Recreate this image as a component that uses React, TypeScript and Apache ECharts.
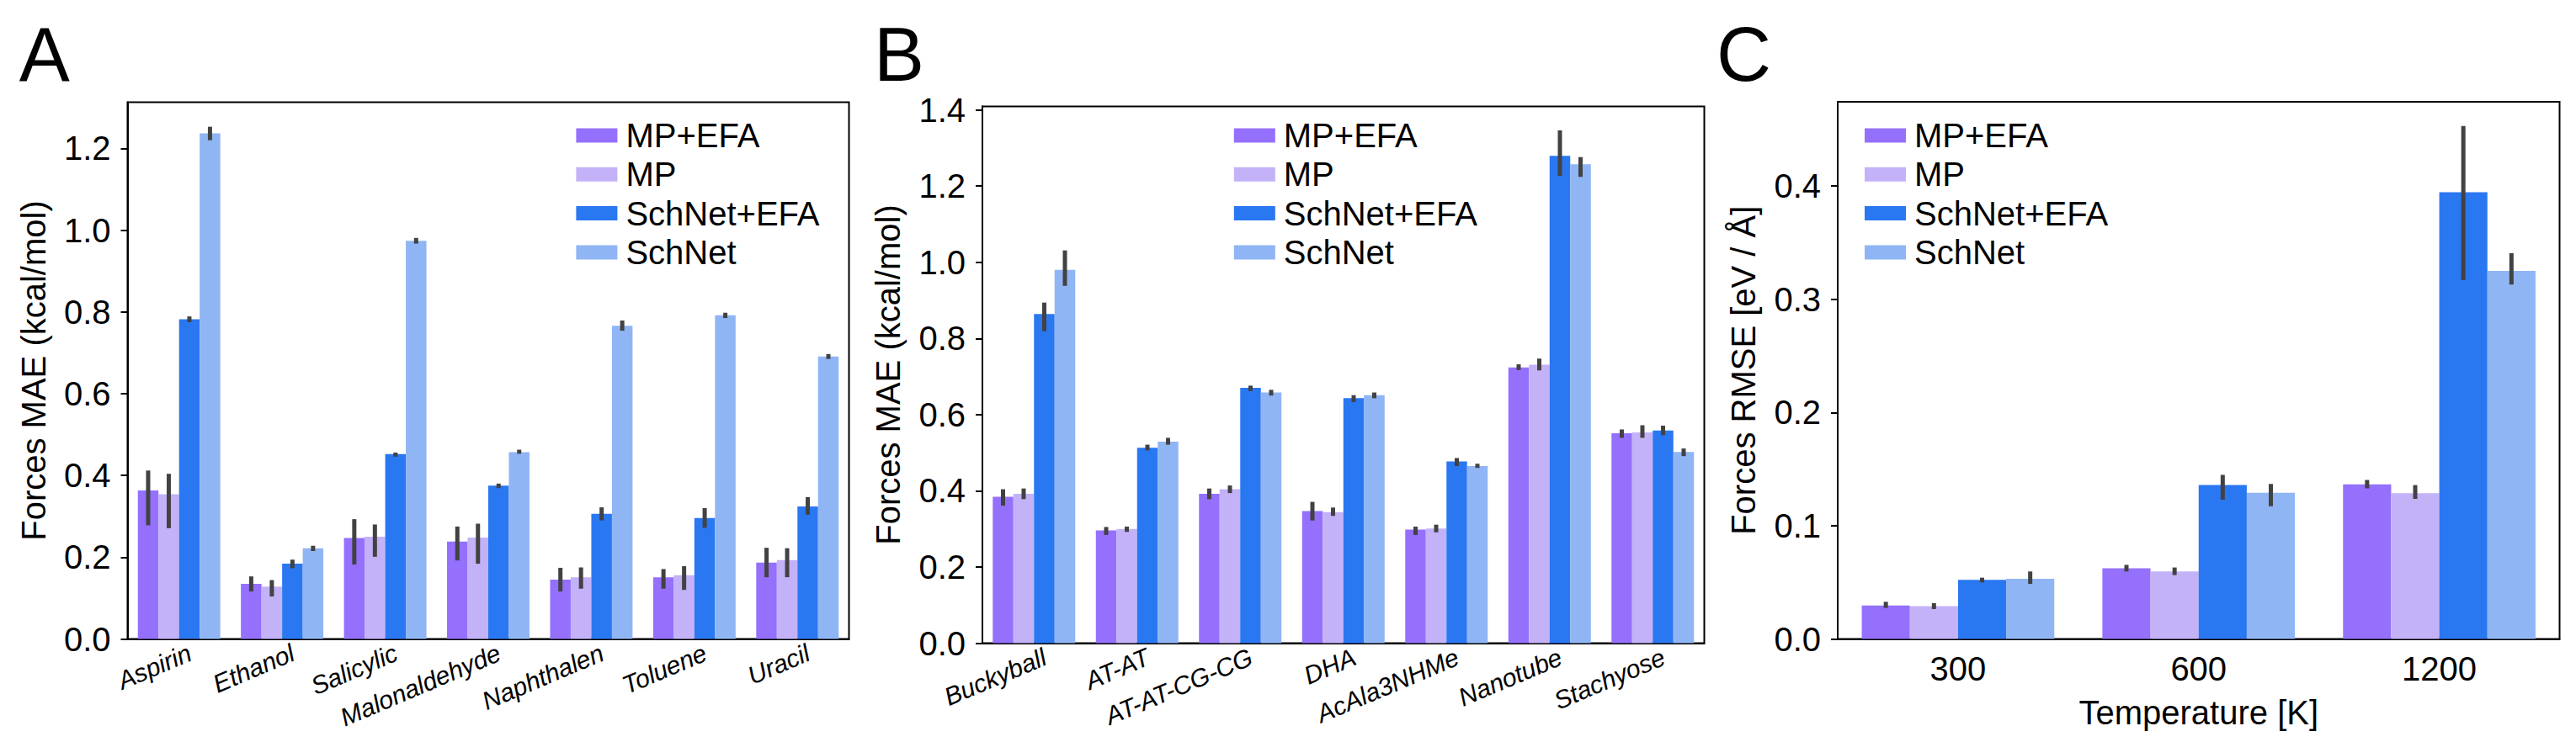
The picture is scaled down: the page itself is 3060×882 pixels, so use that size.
import React, { useEffect, useRef } from "react";
import * as echarts from "echarts";

const methods = ["MP+EFA", "MP", "SchNet+EFA", "SchNet"];

// Panel A
const catsA = ["Aspirin", "Ethanol", "Salicylic", "Malonaldehyde", "Naphthalen", "Toluene", "Uracil"];
const aMpEfa = [0.363, 0.135, 0.247, 0.238, 0.145, 0.151, 0.187];
const aMpEfaLo = [0.278, 0.116, 0.182, 0.192, 0.116, 0.123, 0.151];
const aMpEfaHi = [0.412, 0.153, 0.293, 0.275, 0.174, 0.171, 0.223];
const aMp = [0.354, 0.128, 0.25, 0.248, 0.151, 0.156, 0.193];
const aMpLo = [0.271, 0.104, 0.201, 0.184, 0.123, 0.12, 0.151];
const aMpHi = [0.404, 0.144, 0.28, 0.282, 0.175, 0.178, 0.222];
const aSchEfa = [0.782, 0.184, 0.452, 0.375, 0.306, 0.296, 0.324];
const aSchEfaLo = [0.775, 0.173, 0.446, 0.369, 0.29, 0.272, 0.304];
const aSchEfaHi = [0.789, 0.194, 0.456, 0.38, 0.322, 0.32, 0.347];
const aSch = [1.237, 0.222, 0.974, 0.457, 0.766, 0.792, 0.691];
const aSchLo = [1.22, 0.215, 0.967, 0.453, 0.754, 0.785, 0.685];
const aSchHi = [1.253, 0.228, 0.981, 0.463, 0.779, 0.798, 0.697];
const aTicks = [0, 0.2, 0.4, 0.6, 0.8, 1.0, 1.2];

// Panel B
const catsB = ["Buckyball", "AT-AT", "AT-AT-CG-CG", "DHA", "AcAla3NHMe", "Nanotube", "Stachyose"];
const bMpEfa = [0.384, 0.296, 0.392, 0.347, 0.298, 0.724, 0.551];
const bMpEfaLo = [0.361, 0.284, 0.378, 0.322, 0.284, 0.717, 0.539];
const bMpEfaHi = [0.404, 0.305, 0.406, 0.371, 0.306, 0.732, 0.561];
const bMp = [0.392, 0.3, 0.404, 0.344, 0.301, 0.731, 0.553];
const bMpLo = [0.378, 0.292, 0.394, 0.334, 0.291, 0.716, 0.539];
const bMpHi = [0.406, 0.306, 0.414, 0.356, 0.311, 0.747, 0.572];
const bSchEfa = [0.864, 0.513, 0.67, 0.643, 0.477, 1.279, 0.558];
const bSchEfaLo = [0.819, 0.506, 0.662, 0.633, 0.465, 1.227, 0.546];
const bSchEfaHi = [0.894, 0.521, 0.676, 0.651, 0.486, 1.346, 0.571];
const bSch = [0.98, 0.529, 0.658, 0.651, 0.465, 1.257, 0.502];
const bSchLo = [0.938, 0.521, 0.65, 0.643, 0.46, 1.224, 0.491];
const bSchHi = [1.031, 0.539, 0.665, 0.658, 0.471, 1.276, 0.511];
const bTicks = [0, 0.2, 0.4, 0.6, 0.8, 1.0, 1.2, 1.4];

// Panel C
const catsC = ["300", "600", "1200"];
const cMpEfa = [0.0296, 0.0625, 0.1366];
const cMpEfaLo = [0.0274, 0.0596, 0.133];
const cMpEfaHi = [0.0328, 0.0654, 0.1404];
const cMp = [0.029, 0.0596, 0.1288];
const cMpLo = [0.0264, 0.0564, 0.1237];
const cMpHi = [0.0316, 0.0631, 0.1359];
const cSchEfa = [0.0522, 0.1359, 0.3945];
const cSchEfaLo = [0.0499, 0.123, 0.3169];
const cSchEfaHi = [0.0541, 0.1449, 0.4531];
const cSch = [0.0531, 0.1291, 0.325];
const cSchLo = [0.0486, 0.1172, 0.313];
const cSchHi = [0.0596, 0.1369, 0.3407];
const cTicks = [0, 0.1, 0.2, 0.3, 0.4];

const colors = ["#9470FD", "#C3B2F8", "#2A77F2", "#8FB5F4"];
const FONT = "'Liberation Sans', Arial, Helvetica, sans-serif";
const LABEL_ROT = (23 * Math.PI) / 180;

export default function App() {
  const ref = useRef<HTMLDivElement>(null);

  useEffect(() => {
    if (!ref.current) return;
    const chart = echarts.init(ref.current, undefined, { renderer: "svg" });

    const panels = [
      {
        cats: catsA,
        means: [aMpEfa, aMp, aSchEfa, aSch],
        los: [aMpEfaLo, aMpLo, aSchEfaLo, aSchLo],
        his: [aMpEfaHi, aMpHi, aSchEfaHi, aSchHi],
        ticks: aTicks,
        yMax: 1.313,
        yName: "Forces MAE (kcal/mol)",
        grid: { left: 151.5, top: 121.5, width: 857, height: 638 },
        legendLeft: 684.4,
        rotated: true,
        xName: "",
      },
      {
        cats: catsB,
        means: [bMpEfa, bMp, bSchEfa, bSch],
        los: [bMpEfaLo, bMpLo, bSchEfaLo, bSchLo],
        his: [bMpEfaHi, bMpHi, bSchEfaHi, bSchHi],
        ticks: bTicks,
        yMax: 1.409,
        yName: "Forces MAE (kcal/mol)",
        grid: { left: 1167, top: 126.5, width: 857.5, height: 638 },
        legendLeft: 1465.8,
        rotated: true,
        xName: "",
      },
      {
        cats: catsC,
        means: [cMpEfa, cMp, cSchEfa, cSch],
        los: [cMpEfaLo, cMpLo, cSchEfaLo, cSchLo],
        his: [cMpEfaHi, cMpHi, cSchEfaHi, cSchHi],
        ticks: cTicks,
        yMax: 0.4744,
        yName: "Forces RMSE [eV / Å]",
        grid: { left: 2183, top: 121, width: 857.5, height: 638.5 },
        legendLeft: 2215,
        rotated: false,
        xName: "Temperature [K]",
      },
    ];

    const axisLineStyle = { color: "#000", width: 2 };
    const grids: any[] = [];
    const xAxes: any[] = [];
    const yAxes: any[] = [];
    const series: any[] = [];
    const legends: any[] = [];

    panels.forEach((p, i) => {
      grids.push({
        ...p.grid,
        show: true,
        borderColor: "#000",
        borderWidth: 2,
        backgroundColor: "transparent",
      });
      xAxes.push({
        type: "category",
        gridIndex: i,
        data: p.cats,
        name: p.xName,
        nameLocation: "middle",
        nameGap: 67,
        nameTextStyle: { fontSize: 40, color: "#000", fontFamily: FONT },
        axisLine: { lineStyle: axisLineStyle },
        axisTick: { alignWithLabel: true, length: 8, lineStyle: axisLineStyle },
        axisLabel: p.rotated
          ? { show: false }
          : { interval: 0, fontSize: 40, fontFamily: FONT, color: "#000", margin: 15 },
        splitLine: { show: false },
      });
      yAxes.push({
        type: "value",
        gridIndex: i,
        min: 0,
        max: p.yMax,
        name: p.yName,
        nameLocation: "middle",
        nameRotate: 90,
        nameGap: 92,
        nameTextStyle: { fontSize: 40, color: "#000", fontFamily: FONT },
        axisLine: { show: true, lineStyle: axisLineStyle },
        axisTick: { show: true, length: 8, lineStyle: axisLineStyle, customValues: p.ticks },
        axisLabel: {
          fontSize: 40,
          fontFamily: FONT,
          color: "#000",
          margin: 20,
          customValues: p.ticks,
          formatter: (v: number) => v.toFixed(1),
        },
        splitLine: { show: false },
      });
      methods.forEach((m, k) => {
        series.push({
          type: "bar",
          name: m,
          xAxisIndex: i,
          yAxisIndex: i,
          data: p.means[k],
          barGap: "0%",
          barCategoryGap: "20%",
          itemStyle: { color: colors[k] },
          z: 2,
        });
      });
      methods.forEach((m, k) => {
        const lo = p.los[k];
        const hi = p.his[k];
        series.push({
          type: "custom",
          name: "err-" + i + "-" + k,
          xAxisIndex: i,
          yAxisIndex: i,
          data: p.cats.map((_, j) => [j, lo[j], hi[j]]),
          encode: { x: 0, y: [1, 2] },
          z: 5,
          renderItem: (params: any, api: any) => {
            const c = api.value(0);
            const a = api.coord([c, api.value(1)]);
            const b = api.coord([c, api.value(2)]);
            const bw = (api.size([1, 0])[0] * 0.8) / 4;
            const x = a[0] + (k - 1.5) * bw;
            return {
              type: "line",
              shape: { x1: x, y1: a[1], x2: x, y2: b[1] },
              style: { stroke: "#424242", lineWidth: 5 },
            };
          },
        });
      });
      if (p.rotated) {
        const cats = p.cats;
        series.push({
          type: "custom",
          name: "labels-" + i,
          xAxisIndex: i,
          yAxisIndex: i,
          silent: true,
          clip: false,
          data: cats.map((_, j) => [j, 0]),
          encode: { x: 0, y: 1 },
          z: 6,
          renderItem: (params: any, api: any) => {
            const pt = api.coord([api.value(0), 0]);
            return {
              type: "text",
              x: pt[0] + 13,
              y: pt[1] + 15,
              rotation: LABEL_ROT,
              style: {
                text: cats[params.dataIndex],
                fontSize: 30,
                fontStyle: "italic",
                fontFamily: FONT,
                fill: "#000",
                align: "right",
                verticalAlign: "middle",
              },
            };
          },
        });
      }
      legends.push({
        left: p.legendLeft,
        top: 141,
        orient: "vertical",
        data: methods,
        icon: "rect",
        itemWidth: 49,
        itemHeight: 17,
        itemGap: 6.3,
        padding: 0,
        selectedMode: false,
        textStyle: {
          fontSize: 40,
          lineHeight: 40,
          fontFamily: FONT,
          color: "#000",
          padding: [0, 0, 0, 5],
        },
      });
    });

    const titleStyle = { fontSize: 90, fontWeight: "normal", fontFamily: FONT, color: "#000" };

    chart.setOption({
      animation: false,
      backgroundColor: "#fff",
      title: [
        { text: "A", left: 22.7, top: 19.6, padding: 0, textStyle: titleStyle },
        { text: "B", left: 1038, top: 19.6, padding: 0, textStyle: titleStyle },
        { text: "C", left: 2039, top: 19.6, padding: 0, textStyle: titleStyle },
      ],
      legend: legends,
      grid: grids,
      xAxis: xAxes,
      yAxis: yAxes,
      series,
    });

    return () => chart.dispose();
  }, []);

  return (
    <div
      ref={ref}
      style={{ position: "fixed", left: 0, top: 0, width: 3060, height: 882, background: "#fff" }}
    />
  );
}
